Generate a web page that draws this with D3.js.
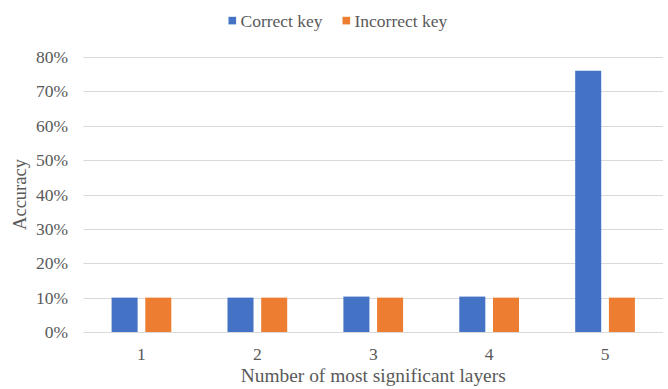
<!DOCTYPE html>
<html>
<head>
<meta charset="utf-8">
<script src="https://cdn.jsdelivr.net/npm/d3@7"></script>
<style>
  html, body { margin: 0; padding: 0; background: #ffffff; }
  svg { display: block; }
</style>
</head>
<body>
<svg id="chart" width="668" height="389"></svg>
<script>
// Accuracy per number of most significant layers used
const categories = ["1", "2", "3", "4", "5"];
const seriesNames = ["Correct key", "Incorrect key"];
const correctKey = [0.100, 0.100, 0.103, 0.103, 0.760];
const incorrectKey = [0.100, 0.100, 0.100, 0.100, 0.100];
const yTicks = [0, 0.1, 0.2, 0.3, 0.4, 0.5, 0.6, 0.7, 0.8];
const colors = ["#4472C4", "#ED7D31"];

const FONT = "'Liberation Serif', 'Times New Roman', Times, serif";
const TEXT_COLOR = "#595959";

const svg = d3.select("#chart")
  .attr("font-family", FONT);
const margin = { left: 83.5, right: 5, top: 57, bottom: 57 };
const width = 668, height = 389;

const x = d3.scaleBand()
  .domain(categories)
  .range([margin.left, width - margin.right])
  .paddingInner(0).paddingOuter(0);

const x1 = d3.scaleBand()
  .domain(seriesNames)
  .range([0, x.bandwidth()])
  .paddingInner(0.228)
  .paddingOuter(0.834);

const y = d3.scaleLinear()
  .domain([0, 0.8])
  .range([height - margin.bottom, margin.top]);

// gridlines
svg.append("g").selectAll("line")
  .data(yTicks)
  .join("line")
  .attr("x1", margin.left)
  .attr("x2", width - margin.right)
  .attr("y1", d => Math.round(y(d)) + 0.5)
  .attr("y2", d => Math.round(y(d)) + 0.5)
  .attr("stroke", "#d9d9d9")
  .attr("stroke-width", 1);

// y axis labels
const yg = svg.append("g")
  .attr("transform", `translate(${margin.left},0)`)
  .call(d3.axisLeft(y)
    .tickValues(yTicks)
    .tickFormat(d3.format(".0%"))
    .tickSize(0)
    .tickPadding(15.5));
yg.attr("font-family", FONT).attr("font-size", 17.5);
yg.select(".domain").remove();
yg.selectAll("text").attr("fill", TEXT_COLOR).attr("font-family", FONT);

// x axis labels
const xg = svg.append("g")
  .attr("transform", `translate(0,${height - margin.bottom})`)
  .call(d3.axisBottom(x).tickSize(0).tickPadding(16));
xg.attr("font-family", FONT).attr("font-size", 17.5);
xg.select(".domain").remove();
xg.selectAll("text").attr("fill", TEXT_COLOR).attr("font-family", FONT);

// bars
const rows = categories.map((c, i) => ({ cat: c, values: [correctKey[i], incorrectKey[i]] }));
svg.append("g").selectAll("g")
  .data(rows)
  .join("g")
  .attr("transform", d => `translate(${x(d.cat)},0)`)
  .selectAll("rect")
  .data(d => d.values.map((v, j) => ({ name: seriesNames[j], v, j })))
  .join("rect")
  .attr("x", d => x1(d.name))
  .attr("width", x1.bandwidth())
  .attr("y", d => y(d.v))
  .attr("height", d => y(0) - y(d.v))
  .attr("fill", d => colors[d.j]);

// axis titles
svg.append("text")
  .attr("x", (margin.left + width - margin.right) / 2)
  .attr("y", 381.5)
  .attr("text-anchor", "middle")
  .attr("font-family", FONT)
  .attr("font-size", 19.4)
  .attr("fill", TEXT_COLOR)
  .text("Number of most significant layers");

svg.append("text")
  .attr("transform", `translate(26,${(y(0) + y(0.8)) / 2}) rotate(-90)`)
  .attr("text-anchor", "middle")
  .attr("font-family", FONT)
  .attr("font-size", 18.5)
  .attr("fill", TEXT_COLOR)
  .text("Accuracy");

// legend
const legendItems = [
  { name: seriesNames[0], color: colors[0], x: 228.5 },
  { name: seriesNames[1], color: colors[1], x: 342.5 }
];
const legend = svg.append("g");
legendItems.forEach(it => {
  legend.append("rect")
    .attr("x", it.x).attr("y", 16.8)
    .attr("width", 7.6).attr("height", 7.6)
    .attr("fill", it.color);
  legend.append("text")
    .attr("x", it.x + 12).attr("y", 26.5)
    .attr("font-family", FONT)
    .attr("font-size", 17.5)
    .attr("fill", TEXT_COLOR)
    .text(it.name);
});
</script>
</body>
</html>
